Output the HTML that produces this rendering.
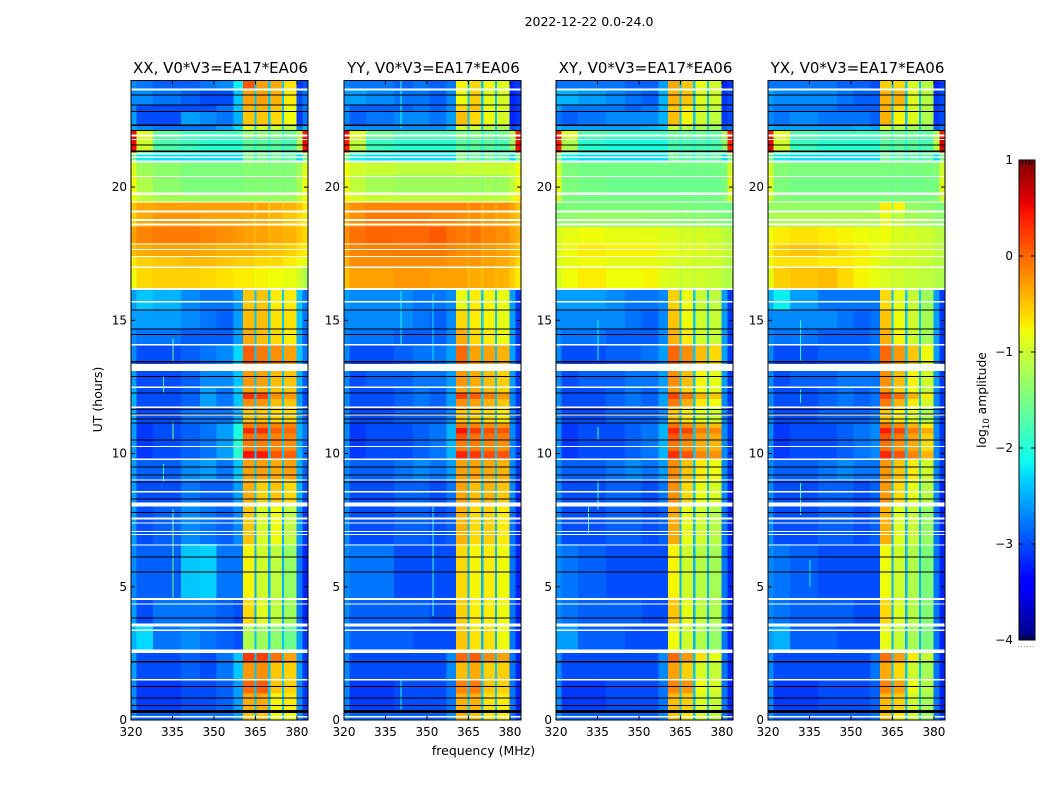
<!DOCTYPE html>
<html>
<head>
<meta charset="utf-8">
<title>2022-12-22 0.0-24.0</title>
<style>
html,body{margin:0;padding:0;background:#fff;}
svg{display:block;font-family:"DejaVu Sans","Liberation Sans",sans-serif;fill:#000;}
</style>
</head>
<body>
<svg id="figure" width="1050" height="800" viewBox="0 0 1050 800" xmlns="http://www.w3.org/2000/svg">
<defs>
<linearGradient id="jet" x1="0" y1="1" x2="0" y2="0">
<stop offset="0" stop-color="#000080"/><stop offset="0.11" stop-color="#0000ff"/><stop offset="0.125" stop-color="#0000ff"/>
<stop offset="0.34" stop-color="#00d8ff"/><stop offset="0.375" stop-color="#0fffee"/><stop offset="0.64" stop-color="#eeff0f"/>
<stop offset="0.66" stop-color="#ffea00"/><stop offset="0.89" stop-color="#ff1300"/><stop offset="0.91" stop-color="#e80000"/><stop offset="1" stop-color="#800000"/>
</linearGradient>
</defs>
<text x="589" y="26" font-size="12.5" text-anchor="middle">2022-12-22 0.0-24.0</text>
<text x="483.5" y="755" font-size="12.5" text-anchor="middle">frequency (MHz)</text>
<text transform="translate(102,399.5) rotate(-90)" font-size="12.5" text-anchor="middle">UT (hours)</text>
<text transform="translate(986,400) rotate(-90)" font-size="12.3" text-anchor="middle">log<tspan font-size="8.5" dy="3">10</tspan><tspan dy="-3"> amplitude</tspan></text>
<g id="panels"></g>
<g id="colorbar"></g>
</svg>
<script>
const panelNames = ["XX", "YY", "XY", "YX"];
const freqTicks = [320, 335, 350, 365, 380];
const hourTicks = [0, 5, 10, 15, 20];
const colorbarTicks = [1, 0, -1, -2, -3, -4];
const freqEdges = [320,322,328,338,345,351,357,360.5,364.6,365.4,369.6,370.4,374.6,375.4,379.8,382,384];
const segmentColumn = [0,1,2,3,4,5,6,7,8,9,8,10,8,11,12,13];
const rowEdges = [24,23.7,23.1,22.85,22.3,22.1,21.85,21.3,21,20.45,19.8,19.45,19.1,18.5,17.9,17.4,17,16.2,15.4,14.7,14.1,13.1,12.5,12.28,12.05,11.75,11.15,10.95,10.75,10.5,10.1,9.8,9,8.1,6.6,4.55,3.55,2.55,2.2,1.5,1,0.4,0];
const whiteFlags = [[23.7,23.63],[21.97,21.9],[21.8,21.77],[21.28,21.23],[21.15,21.1],[21,20.92],[20.42,20.38],[19.8,19.7],[19.45,19.42],[19.12,19.05],[18.8,18.73],[18.63,18.55],[17.88,17.84],[17.68,17.63],[17.41,17.37],[17.02,16.97],[16.22,16.14],[15.72,15.67],[14.12,14.05],[13.36,13.09],[12.51,12.46],[11.76,11.71],[11.47,11.42],[10.29,10.24],[9.81,9.76],[9.03,8.98],[8.59,8.54],[8.17,8.01],[7.6,7.53],[7.41,7.37],[7.1,7.06],[6.98,6.94],[6.59,6.54],[4.57,4.5],[4.37,4.33],[3.63,3.51],[3.4,3.34],[2.64,2.52],[1.53,1.49],[0.15,0.1]];
const blackFlags = [[23.47,23.43],[23.1,23.06],[22.86,22.83],[22.34,22.3],[22.14,22.1],[21.6,21.56],[21.38,21.31],[15.41,15.37],[14.69,14.65],[14.49,14.45],[13.47,13.42],[12.91,12.87],[12.3,12.26],[11.68,11.64],[11.51,11.47],[11.32,11.28],[11.17,11.13],[10.53,10.49],[9.51,9.47],[9.21,9.17],[8.96,8.92],[8.32,8.28],[7.8,7.76],[6.14,6.1],[5.58,5.54],[3.85,3.81],[2.21,2.16],[1.27,1.23],[0.85,0.81],[0.56,0.52],[0.37,0.26]];
const xxSpikes = [[335,7.9,4.6,-1.5],[335,14.3,13.45,-1.6],[335,11.2,10.5,-1.5],[331.5,12.9,12.3,-1.9],[331.5,9.6,8.95,-1.9]];
const yySpikes = [[340.5,16.1,14.1,-2.1],[340.5,24,22.2,-2],[352,8,3.9,-1.9],[352,16,13.5,-2.2],[340.5,1.5,0.4,-2.1]];
const xySpikes = [[331.5,8,7,-1.9],[335,11,10.5,-2],[335,9,7.9,-1.8],[335,15,13.5,-2.1]];
const yxSpikes = [[331.5,8.9,7.7,-1.9],[331.5,12.4,11.9,-2],[331.5,15,13.5,-2.1],[335,6,5,-2.2]];

const xxValues = [
[-2.7,-2.8,-2.9,-2.9,-2.8,-2.7,-2.2,0.1,-2.4,-0.3,-0.35,-0.65,-3.1,-3],
[-2.7,-2.7,-2.8,-2.9,-3,-3,-2.4,-0.3,-2.4,-0.3,-0.4,-0.7,-3,-2.8],
[-2.7,-3,-3,-3,-3,-2.8,-2.4,-0.4,-2.4,-0.4,-0.5,-0.8,-3,-2.8],
[-2.6,-3,-3,-2.6,-2.7,-2.8,-2.5,-0.5,-2.4,-0.5,-0.6,-0.8,-3.1,-2.8],
[-2.6,-2.7,-2.8,-2.8,-2.8,-2.6,-2.3,-0.9,-2.4,-0.9,-1,-1.1,-2.8,-2.5],
[0.5,-0.9,-1.7,-1.9,-1.9,-1.9,-1.9,-1.4,-1.9,-1.4,-1.5,-1.6,-1.2,0.4],
[0.5,-1,-1.8,-1.9,-2,-2,-2,-1.7,-2,-1.7,-1.7,-1.8,-1.2,0.5],
[-1.5,-2.2,-2.3,-2.3,-2.3,-2.3,-2.3,-1.5,-2.1,-1.6,-1.6,-1.7,-2.3,-1.5],
[-0.9,-1.3,-1.4,-1.5,-1.5,-1.5,-1.5,-1.45,-1.5,-1.45,-1.45,-1.45,-1.3,-0.9],
[-0.8,-1.2,-1.4,-1.5,-1.5,-1.5,-1.5,-1.45,-1.5,-1.45,-1.45,-1.45,-1.25,-0.8],
[-0.8,-1.1,-1.25,-1.3,-1.35,-1.35,-1.35,-1.3,-1.4,-1.3,-1.3,-1.3,-1.1,-0.8],
[-0.5,-0.35,-0.3,-0.3,-0.3,-0.3,-0.3,-0.3,-0.5,-0.3,-0.35,-0.4,-0.5,-0.7],
[-0.55,-0.35,-0.25,-0.25,-0.3,-0.3,-0.3,-0.35,-0.5,-0.35,-0.4,-0.5,-0.6,-0.7],
[-0.3,-0.15,-0.1,-0.1,-0.15,-0.2,-0.25,-0.3,-0.4,-0.3,-0.35,-0.4,-0.5,-0.6],
[-0.45,-0.35,-0.3,-0.3,-0.35,-0.4,-0.4,-0.4,-0.5,-0.45,-0.5,-0.55,-0.65,-0.7],
[-0.7,-0.55,-0.5,-0.45,-0.45,-0.5,-0.55,-0.55,-0.65,-0.6,-0.6,-0.7,-0.8,-0.9],
[-0.8,-0.6,-0.55,-0.55,-0.6,-0.65,-0.7,-0.7,-0.8,-0.75,-0.8,-0.85,-1,-1.2],
[-2.6,-2.4,-2.5,-2.7,-2.8,-2.8,-2.6,-0.5,-2.4,-0.5,-0.7,-0.7,-2.4,-2.8],
[-2.6,-2.6,-2.6,-2.7,-2.8,-2.9,-2.6,-0.45,-2.4,-0.45,-0.65,-0.65,-2.4,-2.8],
[-2.7,-2.8,-2.8,-2.9,-2.9,-2.9,-2.6,-0.35,-2.4,-0.45,-0.6,-0.7,-2.5,-2.9],
[-2.7,-3,-3,-2.9,-2.8,-2.7,-2.3,0.05,-2.4,-0.1,-0.2,-0.3,-2.4,-2.8],
[-2.6,-3,-3,-2.9,-2.7,-2.7,-2.4,-0.25,-2.4,-0.3,-0.45,-0.5,-2.5,-2.9],
[-2.5,-3,-3,-2.9,-2.6,-2.8,-2.4,-0.3,-2.4,-0.35,-0.5,-0.5,-2.6,-3],
[-2.5,-3,-3,-2.9,-2.6,-2.8,-2.4,0.3,-2.4,0.2,-0.2,-0.25,-2.6,-3],
[-2.5,-3,-3,-2.9,-2.6,-2.8,-2.4,-0.2,-2.4,-0.25,-0.45,-0.5,-2.6,-3],
[-2.5,-3,-3,-2.8,-2.8,-2.8,-2.5,-0.5,-2.4,-0.5,-0.6,-0.6,-2.5,-2.9],
[-2.6,-3.1,-3,-2.9,-2.8,-2.6,-2.1,-0.1,-2.4,-0.1,-0.15,-0.15,-2.5,-2.8],
[-2.6,-3.1,-3,-2.9,-2.8,-2.6,-2.1,0.35,-2.4,0.3,0.05,0,-2.5,-2.8],
[-2.6,-3.1,-3,-2.9,-2.8,-2.6,-2.1,-0.05,-2.4,-0.05,-0.15,-0.15,-2.5,-2.8],
[-2.6,-3.1,-3,-2.9,-2.8,-2.6,-2,-0.1,-2.4,-0.1,-0.15,-0.2,-2.5,-2.9],
[-2.6,-3.1,-3,-2.9,-2.8,-2.6,-2,0.45,-2.4,0.4,0.1,0.05,-2.5,-2.9],
[-2.6,-2.9,-2.9,-2.7,-2.6,-2.8,-2.4,-0.3,-2.4,-0.3,-0.35,-0.3,-2.5,-2.9],
[-2.6,-3,-3,-2.8,-2.9,-2.9,-2.6,-0.35,-2.4,-0.55,-0.5,-0.6,-2.5,-3],
[-2.6,-3,-2.9,-2.7,-2.8,-2.9,-2.7,-0.5,-2.5,-0.95,-0.8,-1.1,-2.6,-3.1],
[-2.7,-2.9,-2.9,-2.4,-2.35,-2.8,-2.8,-0.75,-2.5,-1,-1.1,-1.35,-2.8,-3.2],
[-2.6,-3,-2.8,-2.8,-2.8,-2.9,-3,-0.6,-2.5,-0.9,-1.1,-1.3,-2.8,-3.2],
[-2.5,-2.3,-2.8,-2.7,-2.8,-2.9,-3,-1.2,-2.4,-1.3,-1.4,-1.6,-2.6,-3.1],
[-2.6,-3,-3,-2.9,-3,-2.8,-2.4,0.25,-2.4,0.2,-0.05,-0.3,-2.6,-3.1],
[-2.6,-3,-3,-2.9,-3,-2.8,-2.4,-0.25,-2.4,-0.2,-0.5,-0.55,-2.6,-3.1],
[-2.7,-3.1,-3.1,-3,-3,-2.9,-2.6,0,-2.4,0.05,-0.5,-0.55,-2.7,-3.1],
[-2.7,-3.1,-3.1,-3,-3,-2.9,-2.6,-0.35,-2.4,-0.35,-0.75,-0.7,-2.7,-3.1],
[-2.7,-2.9,-2.9,-2.8,-2.8,-2.8,-2.6,-0.5,-2.4,-0.5,-0.8,-0.8,-2.7,-3]
];
const yyValues = [
[-2.7,-2.8,-2.8,-2.9,-2.8,-2.9,-2.8,-0.75,-2.4,-0.6,-0.8,-0.9,-3.2,-3.1],
[-2.6,-2.6,-2.7,-2.8,-2.8,-2.9,-2.7,-0.8,-2.4,-0.55,-0.9,-0.95,-3.2,-3.1],
[-2.7,-2.9,-2.9,-2.9,-2.8,-2.9,-2.7,-0.6,-2.4,-0.5,-0.85,-0.95,-3.2,-3.1],
[-2.7,-2.9,-2.8,-2.7,-2.7,-2.8,-2.6,-0.45,-2.4,-0.6,-0.8,-0.95,-3.2,-3.1],
[-2.6,-2.7,-2.7,-2.7,-2.7,-2.7,-2.5,-1,-2.4,-1,-1.1,-1.2,-3,-2.9],
[0.5,-0.9,-1.6,-1.8,-1.8,-1.8,-1.8,-1.5,-1.9,-1.5,-1.6,-1.6,-1.2,0.4],
[0.4,-1.1,-1.9,-2,-2,-2,-2,-1.7,-2,-1.7,-1.7,-1.8,-1.3,0.5],
[-1.5,-2.2,-2.3,-2.3,-2.3,-2.3,-2.3,-1.5,-2.1,-1.6,-1.6,-1.7,-2.3,-1.5],
[-0.8,-1,-1.05,-1.1,-1.1,-1.1,-1.1,-1.05,-1.1,-1.05,-1.05,-1.05,-1,-0.8],
[-0.8,-1.1,-1.25,-1.3,-1.3,-1.3,-1.3,-1.3,-1.4,-1.3,-1.3,-1.3,-1.1,-0.8],
[-0.7,-0.95,-1.05,-1.1,-1.1,-1.1,-1.1,-1.1,-1.2,-1.1,-1.1,-1.1,-0.9,-0.7],
[-0.35,-0.2,-0.15,-0.15,-0.15,-0.15,-0.15,-0.15,-0.3,-0.15,-0.2,-0.2,-0.3,-0.5],
[-0.4,-0.2,-0.1,-0.1,-0.1,-0.15,-0.15,-0.2,-0.4,-0.2,-0.25,-0.3,-0.4,-0.5],
[-0.2,-0.05,0.02,0,0,0.08,-0.05,-0.1,-0.2,-0.05,-0.15,-0.2,-0.3,-0.4],
[-0.3,-0.15,-0.12,-0.1,-0.1,-0.1,-0.15,-0.2,-0.3,-0.2,-0.25,-0.3,-0.4,-0.5],
[-0.4,-0.2,-0.2,-0.2,-0.2,-0.2,-0.25,-0.25,-0.35,-0.25,-0.3,-0.35,-0.45,-0.6],
[-0.45,-0.3,-0.3,-0.25,-0.25,-0.3,-0.3,-0.3,-0.45,-0.35,-0.35,-0.4,-0.55,-0.7],
[-2.6,-2.7,-2.7,-2.7,-2.8,-2.8,-2.7,-0.85,-2.4,-0.7,-0.75,-0.85,-2.6,-3.1],
[-2.7,-2.7,-2.7,-2.7,-2.8,-2.9,-2.7,-0.6,-2.4,-0.7,-0.75,-0.85,-2.6,-3.1],
[-2.7,-2.8,-2.8,-2.9,-2.9,-2.9,-2.7,-0.35,-2.4,-0.6,-0.7,-0.8,-2.6,-3.1],
[-2.7,-3,-3,-2.9,-2.8,-2.8,-2.6,0,-2.4,-0.3,-0.3,-0.4,-2.6,-3.1],
[-2.7,-3,-2.9,-2.9,-2.8,-2.8,-2.6,-0.25,-2.4,-0.35,-0.45,-0.55,-2.6,-3.1],
[-2.7,-3,-3,-2.9,-2.8,-2.9,-2.6,-0.3,-2.4,-0.35,-0.45,-0.55,-2.7,-3.1],
[-2.7,-3,-3,-2.9,-2.8,-2.9,-2.6,0.2,-2.4,0.05,-0.1,-0.25,-2.7,-3.1],
[-2.7,-3,-3,-2.9,-2.8,-2.9,-2.6,-0.2,-2.4,-0.3,-0.4,-0.5,-2.7,-3.1],
[-2.7,-3,-3,-2.9,-2.9,-2.9,-2.7,-0.5,-2.4,-0.55,-0.6,-0.7,-2.7,-3.1],
[-2.7,-3.1,-3,-3,-2.9,-2.8,-2.5,-0.1,-2.4,-0.15,-0.2,-0.25,-2.7,-3.1],
[-2.7,-3.1,-3,-3,-2.9,-2.8,-2.5,0.45,-2.4,0.25,0.15,0.1,-2.7,-3.1],
[-2.7,-3.1,-3,-3,-2.9,-2.8,-2.5,0.1,-2.4,-0.05,-0.05,-0.1,-2.7,-3.1],
[-2.7,-3.1,-3,-3,-2.9,-2.8,-2.5,-0.1,-2.4,-0.1,-0.15,-0.2,-2.7,-3.1],
[-2.7,-3.1,-3,-3,-2.9,-2.8,-2.5,0.35,-2.4,0.25,0.15,0.1,-2.7,-3.1],
[-2.7,-2.9,-2.9,-2.8,-2.7,-2.8,-2.6,-0.3,-2.4,-0.3,-0.35,-0.4,-2.7,-3.1],
[-2.7,-3,-3,-2.9,-2.9,-3,-2.8,-0.3,-2.4,-0.45,-0.4,-0.5,-2.7,-3.2],
[-2.7,-3,-3,-2.9,-2.9,-3,-2.9,-0.4,-2.5,-0.6,-0.55,-0.7,-2.8,-3.2],
[-2.7,-2.8,-2.8,-3,-3,-3,-3,-0.6,-2.5,-0.75,-0.7,-0.8,-2.8,-3.2],
[-2.7,-2.9,-2.9,-2.9,-2.9,-3,-3,-0.55,-2.5,-0.7,-0.7,-0.8,-2.8,-3.2],
[-2.7,-2.9,-2.9,-2.9,-3,-3,-3,-0.5,-2.5,-0.65,-0.65,-0.8,-2.8,-3.2],
[-2.7,-3,-3,-3,-3,-3,-2.7,0,-2.4,0.05,-0.2,-0.3,-2.8,-3.2],
[-2.7,-3,-3,-3,-3,-3,-2.7,-0.45,-2.4,-0.35,-0.55,-0.55,-2.8,-3.2],
[-2.7,-3.1,-3.1,-3,-3,-3,-2.8,-0.15,-2.4,-0.1,-0.5,-0.55,-2.8,-3.2],
[-2.7,-3.1,-3.1,-3,-3,-3,-2.8,-0.4,-2.4,-0.4,-0.65,-0.7,-2.8,-3.2],
[-2.7,-2.9,-2.9,-2.9,-2.9,-2.9,-2.7,-0.4,-2.4,-0.5,-0.7,-0.7,-2.8,-3.1]
];
const xyValues = [
[-2.8,-2.8,-2.8,-2.8,-2.9,-2.9,-2.6,-0.35,-2.4,-0.5,-0.85,-1,-3.2,-3.1],
[-2.5,-2.5,-2.6,-2.7,-2.8,-2.9,-2.5,-0.4,-2.4,-0.5,-0.9,-1,-3.1,-3],
[-2.6,-2.8,-2.8,-2.8,-2.9,-2.8,-2.5,-0.5,-2.4,-0.7,-1,-1.1,-3.1,-3],
[-2.8,-2.9,-2.8,-2.7,-2.7,-2.7,-2.5,-0.45,-2.4,-0.75,-1,-1.1,-3.1,-3],
[-2.5,-2.6,-2.6,-2.6,-2.6,-2.5,-2.4,-1,-2.4,-1.1,-1.2,-1.3,-2.9,-2.8],
[0.4,-0.9,-1.8,-1.9,-1.9,-1.9,-1.9,-1.6,-1.9,-1.6,-1.6,-1.7,-1.2,0.4],
[0.4,-1.2,-2,-2.1,-2.1,-2.1,-2.1,-1.8,-2,-1.8,-1.8,-1.8,-1.4,0.4],
[-1.5,-2.2,-2.3,-2.3,-2.3,-2.3,-2.3,-1.6,-2.1,-1.7,-1.7,-1.7,-2.3,-1.5],
[-1,-1.5,-1.55,-1.55,-1.55,-1.55,-1.55,-1.55,-1.6,-1.55,-1.55,-1.55,-1.5,-1],
[-0.9,-1.5,-1.55,-1.6,-1.6,-1.6,-1.6,-1.6,-1.6,-1.6,-1.6,-1.6,-1.5,-0.9],
[-1,-1.5,-1.55,-1.55,-1.55,-1.55,-1.55,-1.55,-1.6,-1.55,-1.55,-1.55,-1.45,-1],
[-1.5,-1.5,-1.5,-1.5,-1.5,-1.5,-1.5,-1.5,-1.6,-1.5,-1.5,-1.55,-1.55,-1.6],
[-1.4,-1.4,-1.35,-1.35,-1.35,-1.4,-1.4,-1.4,-1.5,-1.4,-1.4,-1.45,-1.5,-1.5],
[-0.95,-0.85,-0.8,-0.85,-0.85,-0.85,-0.9,-0.9,-1.05,-0.95,-0.95,-1,-1.1,-1.15],
[-0.95,-0.8,-0.7,-0.75,-0.75,-0.75,-0.85,-0.85,-1,-0.9,-0.9,-1,-1.05,-1.1],
[-0.95,-0.85,-0.8,-0.85,-0.85,-0.85,-0.9,-0.95,-1.05,-0.95,-1,-1,-1.1,-1.15],
[-1,-0.8,-0.7,-0.8,-0.8,-0.75,-0.9,-0.95,-1.1,-1,-1,-1.05,-1.15,-1.2],
[-2.6,-2.6,-2.6,-2.7,-2.8,-2.8,-2.7,-0.55,-2.4,-0.8,-1.05,-1.1,-2.6,-3.1],
[-2.7,-2.7,-2.7,-2.7,-2.8,-2.9,-2.7,-0.5,-2.4,-0.8,-1,-1.05,-2.6,-3.1],
[-2.7,-2.8,-2.8,-2.9,-2.9,-2.9,-2.7,-0.4,-2.4,-0.7,-1,-1.05,-2.6,-3.1],
[-2.7,-3,-3,-2.9,-2.9,-2.8,-2.6,0,-2.4,-0.2,-0.45,-0.6,-2.6,-3.1],
[-2.7,-3,-2.9,-2.9,-2.8,-2.8,-2.6,-0.2,-2.4,-0.45,-0.75,-0.85,-2.6,-3.1],
[-2.7,-3,-3,-2.9,-2.8,-2.9,-2.6,-0.25,-2.4,-0.55,-0.8,-0.9,-2.7,-3.1],
[-2.7,-3,-3,-2.9,-2.8,-2.9,-2.6,0.2,-2.4,-0.05,-0.4,-0.5,-2.7,-3.1],
[-2.7,-3,-3,-2.9,-2.8,-2.9,-2.6,-0.1,-2.4,-0.4,-0.7,-0.8,-2.7,-3.1],
[-2.7,-3,-3,-2.9,-2.9,-2.9,-2.7,-0.5,-2.4,-0.7,-0.9,-1,-2.7,-3.1],
[-2.7,-3.1,-3,-3,-2.9,-2.8,-2.5,-0.05,-2.4,-0.2,-0.4,-0.45,-2.7,-3.1],
[-2.7,-3.1,-3,-3,-2.9,-2.8,-2.5,0.35,-2.4,0.2,-0.1,-0.15,-2.7,-3.1],
[-2.7,-3.1,-3,-3,-2.9,-2.8,-2.5,0.1,-2.4,-0.1,-0.3,-0.35,-2.7,-3.1],
[-2.7,-3.1,-3,-3,-2.9,-2.8,-2.5,-0.05,-2.4,-0.2,-0.35,-0.4,-2.7,-3.1],
[-2.7,-3.1,-3,-3,-2.9,-2.8,-2.5,0.3,-2.4,0.1,-0.15,-0.2,-2.7,-3.1],
[-2.7,-2.9,-2.9,-2.8,-2.7,-2.8,-2.6,-0.2,-2.4,-0.5,-0.7,-0.8,-2.7,-3.1],
[-2.7,-3,-3,-2.9,-2.9,-3,-2.8,-0.2,-2.4,-0.6,-0.85,-0.95,-2.7,-3.2],
[-2.7,-3,-3,-2.9,-2.9,-3,-2.9,-0.35,-2.5,-0.85,-1,-1.15,-2.8,-3.2],
[-2.7,-2.8,-2.9,-3,-3,-3,-3,-0.75,-2.5,-1,-1.15,-1.25,-2.8,-3.2],
[-2.7,-2.8,-2.9,-2.9,-2.9,-3,-3,-0.5,-2.5,-0.85,-1.1,-1.2,-2.8,-3.2],
[-2.6,-2.6,-2.9,-2.9,-3,-3,-3,-0.8,-2.5,-1,-1.2,-1.35,-2.8,-3.2],
[-2.7,-3,-3,-3,-3,-3,-2.7,0,-2.4,-0.25,-0.65,-0.85,-2.8,-3.2],
[-2.7,-3,-3,-3,-3,-3,-2.7,-0.3,-2.4,-0.55,-0.95,-1.05,-2.8,-3.2],
[-2.7,-3.1,-3.1,-3,-3,-3,-2.8,-0.15,-2.4,-0.25,-0.8,-0.95,-2.8,-3.2],
[-2.7,-3.1,-3.1,-3,-3,-3,-2.8,-0.45,-2.4,-0.55,-0.95,-1.05,-2.8,-3.2],
[-2.7,-2.9,-2.9,-2.9,-2.9,-2.9,-2.7,-0.5,-2.4,-0.7,-1,-1.1,-2.8,-3.1]
];
const yxValues = [
[-2.8,-2.8,-2.8,-2.8,-2.9,-2.9,-3,-0.55,-2.4,-0.6,-0.95,-1.15,-3.2,-3.1],
[-2.6,-2.7,-2.7,-2.7,-2.8,-2.9,-2.9,-0.4,-2.4,-0.4,-0.9,-1.15,-3.1,-3],
[-2.7,-2.8,-2.8,-2.8,-2.9,-2.9,-2.9,-0.4,-2.4,-0.6,-0.95,-1.2,-3.1,-3],
[-2.7,-2.8,-2.7,-2.8,-2.8,-2.8,-2.9,-0.4,-2.4,-0.75,-0.9,-1.2,-3.1,-3],
[-2.5,-2.6,-2.6,-2.6,-2.6,-2.5,-2.6,-1,-2.4,-1.1,-1.2,-1.4,-2.9,-2.8],
[0.4,-0.9,-1.8,-1.9,-1.9,-1.9,-1.9,-1.6,-1.9,-1.6,-1.6,-1.7,-1.2,0.4],
[0.6,-1,-1.9,-2,-2,-2,-2,-1.7,-2,-1.7,-1.7,-1.8,-1.1,0.6],
[-1.5,-2.2,-2.3,-2.3,-2.3,-2.3,-2.3,-1.6,-2.1,-1.7,-1.7,-1.7,-2.3,-1.5],
[-1,-1.45,-1.5,-1.5,-1.5,-1.5,-1.5,-1.5,-1.55,-1.5,-1.5,-1.5,-1.45,-1],
[-0.9,-1.5,-1.55,-1.55,-1.55,-1.55,-1.55,-1.55,-1.6,-1.55,-1.55,-1.55,-1.5,-0.9],
[-1,-1.45,-1.5,-1.5,-1.5,-1.5,-1.5,-1.5,-1.55,-1.5,-1.5,-1.5,-1.45,-1],
[-1.35,-1.35,-1.35,-1.35,-1.35,-1.35,-1.35,-0.7,-1.4,-0.75,-1.35,-1.4,-1.45,-1.5],
[-1.25,-1.2,-1.2,-1.2,-1.2,-1.2,-1.25,-0.85,-1.35,-1.1,-1.25,-1.3,-1.4,-1.4],
[-0.8,-0.7,-0.65,-0.7,-0.75,-0.8,-0.85,-0.8,-1.05,-0.9,-0.95,-1,-1.1,-1.15],
[-0.75,-0.55,-0.5,-0.55,-0.65,-0.7,-0.8,-0.85,-1,-0.95,-0.95,-1,-1.1,-1.1],
[-0.8,-0.65,-0.65,-0.7,-0.7,-0.75,-0.85,-0.95,-1.05,-1,-1,-1.05,-1.15,-1.15],
[-0.85,-0.55,-0.5,-0.45,-0.6,-0.75,-0.85,-0.95,-1.1,-1,-1.05,-1.1,-1.15,-1.2],
[-2.5,-2.2,-2.6,-2.8,-2.8,-2.8,-2.8,-0.6,-2.4,-0.85,-1.05,-1.3,-2.6,-3.1],
[-2.7,-2.7,-2.7,-2.7,-2.8,-2.9,-2.8,-0.5,-2.4,-0.8,-1,-1.25,-2.6,-3.1],
[-2.7,-2.8,-2.8,-2.9,-2.9,-2.9,-2.8,-0.4,-2.4,-0.75,-1,-1.25,-2.6,-3.1],
[-2.7,-3,-3,-2.9,-2.9,-2.9,-2.8,0,-2.4,-0.25,-0.5,-0.8,-2.6,-3.1],
[-2.7,-3,-2.9,-2.9,-2.8,-2.8,-2.8,-0.2,-2.4,-0.45,-0.75,-1,-2.6,-3.1],
[-2.7,-3,-3,-2.9,-2.8,-2.9,-2.8,-0.25,-2.4,-0.55,-0.8,-1.1,-2.7,-3.1],
[-2.7,-3,-3,-2.9,-2.8,-2.9,-2.8,0.2,-2.4,-0.05,-0.4,-0.7,-2.7,-3.1],
[-2.7,-3,-3,-2.9,-2.8,-2.9,-2.8,-0.1,-2.4,-0.4,-0.7,-1,-2.7,-3.1],
[-2.7,-3,-3,-2.9,-2.9,-2.9,-2.8,-0.5,-2.4,-0.7,-0.9,-1.2,-2.7,-3.1],
[-2.7,-3.1,-3,-3,-2.9,-2.8,-2.7,-0.05,-2.4,-0.2,-0.4,-0.7,-2.7,-3.1],
[-2.7,-3.1,-3,-3,-2.9,-2.8,-2.7,0.4,-2.4,0.2,-0.1,-0.35,-2.7,-3.1],
[-2.7,-3.1,-3,-3,-2.9,-2.8,-2.7,0.1,-2.4,-0.1,-0.3,-0.55,-2.7,-3.1],
[-2.7,-3.1,-3,-3,-2.9,-2.8,-2.7,-0.05,-2.4,-0.2,-0.35,-0.6,-2.7,-3.1],
[-2.7,-3.1,-3,-3,-2.9,-2.8,-2.7,0.35,-2.4,0.1,-0.15,-0.4,-2.7,-3.1],
[-2.7,-2.9,-2.9,-2.8,-2.7,-2.8,-2.8,-0.25,-2.4,-0.5,-0.7,-1,-2.7,-3.1],
[-2.7,-3,-3,-2.9,-2.9,-3,-2.9,-0.25,-2.4,-0.6,-0.85,-1.15,-2.7,-3.2],
[-2.7,-3,-3,-2.9,-2.9,-3,-2.9,-0.4,-2.5,-0.9,-1.05,-1.35,-2.8,-3.2],
[-2.7,-2.8,-2.9,-3,-3,-3,-3,-0.8,-2.5,-1,-1.2,-1.5,-2.8,-3.2],
[-2.7,-2.8,-2.9,-2.9,-2.9,-3,-3,-0.6,-2.5,-0.9,-1.15,-1.45,-2.8,-3.2],
[-2.6,-2.5,-2.9,-2.9,-3,-3,-3,-0.85,-2.5,-1.05,-1.25,-1.5,-2.8,-3.2],
[-2.7,-3,-3,-3,-3,-3,-2.8,-0.05,-2.4,-0.3,-0.7,-1.05,-2.8,-3.2],
[-2.7,-3,-3,-3,-3,-3,-2.8,-0.35,-2.4,-0.6,-1,-1.25,-2.8,-3.2],
[-2.7,-3.1,-3.1,-3,-3,-3,-2.9,-0.15,-2.4,-0.3,-0.8,-1.15,-2.8,-3.2],
[-2.7,-3.1,-3.1,-3,-3,-3,-2.9,-0.45,-2.4,-0.55,-1,-1.25,-2.8,-3.2],
[-2.7,-2.9,-2.9,-2.9,-2.9,-2.9,-2.8,-0.5,-2.4,-0.7,-1,-1.3,-2.8,-3.1]
];
const panelValues = [xxValues, yyValues, xyValues, yxValues];
const panelSpikes = [xxSpikes, yySpikes, xySpikes, yxSpikes];

const NS = "http://www.w3.org/2000/svg";
const panelLefts = [131, 344, 556, 768];
const plotTop = 80.5, plotBottom = 720, plotWidth = 177;
const freqMin = 320, freqMax = 384, hourMin = 0, hourMax = 24;
const cbarLeft = 1019, cbarWidth = 16, cbarTop = 160, cbarBottom = 640, cbarMin = -4, cbarMax = 1;

function xScale(left, f) { return left + (f - freqMin) / (freqMax - freqMin) * plotWidth; }
function yScale(h) { return plotBottom - (h - hourMin) / (hourMax - hourMin) * (plotBottom - plotTop); }
function cbarScale(v) { return cbarBottom - (v - cbarMin) / (cbarMax - cbarMin) * (cbarBottom - cbarTop); }
function lerp(stops, t) {
  for (let i = 1; i < stops.length; i++) {
    if (t <= stops[i][0]) {
      const k = (t - stops[i-1][0]) / (stops[i][0] - stops[i-1][0]);
      return stops[i-1][1] + k * (stops[i][1] - stops[i-1][1]);
    }
  }
  return stops[stops.length-1][1];
}
const jetR = [[0,0],[0.35,0],[0.66,1],[0.89,1],[1,0.5]];
const jetG = [[0,0],[0.125,0],[0.375,1],[0.64,1],[0.91,0],[1,0]];
const jetB = [[0,0.5],[0.11,1],[0.34,1],[0.65,0],[1,0]];
function jetColor(v) {
  const t = Math.min(1, Math.max(0, (v - cbarMin) / (cbarMax - cbarMin)));
  return "rgb(" + Math.round(255*lerp(jetR,t)) + "," + Math.round(255*lerp(jetG,t)) + "," + Math.round(255*lerp(jetB,t)) + ")";
}
function make(tag, attrs, parent) {
  const node = document.createElementNS(NS, tag);
  for (const key in attrs) node.setAttribute(key, attrs[key]);
  parent.appendChild(node);
  return node;
}

const panelsRoot = document.getElementById("panels");
panelNames.forEach(function (name, p) {
  const left = panelLefts[p];
  const values = panelValues[p];
  const panel = make("g", {}, panelsRoot);
  
  

  const title = make("text", {x: left + plotWidth / 2 + 1, y: 73, "font-size": 15, "text-anchor": "middle"}, panel);
  title.textContent = name + ", V0*V3=EA17*EA06";
  
  

  const heat = make("g", {"shape-rendering": "crispEdges"}, panel);
  
  
  values.forEach(function (row, r) {
    const y0 = yScale(rowEdges[r]), y1 = yScale(rowEdges[r + 1]);
    segmentColumn.forEach(function (col, s) {
      const x0 = xScale(left, freqEdges[s]), x1 = xScale(left, freqEdges[s + 1]);
      const cell = make("rect", {x: x0, y: y0, width: x1 - x0, height: y1 - y0, fill: jetColor(row[col])}, heat);
      
      
    });
  });

  panelSpikes[p].forEach(function (spike) {
    const line = make("rect", {x: xScale(left, spike[0]), y: yScale(spike[1]), width: 1, height: yScale(spike[2]) - yScale(spike[1]), fill: jetColor(spike[3]), "shape-rendering": "crispEdges"}, panel);
    
    
  });

  whiteFlags.forEach(function (band) {
    const flag = make("rect", {x: left, y: yScale(band[0]), width: plotWidth, height: Math.max(1, yScale(band[1]) - yScale(band[0])), fill: "#fff", "shape-rendering": "crispEdges"}, panel);
    
    
  });
  blackFlags.forEach(function (band) {
    const flag = make("rect", {x: left, y: yScale(band[0]), width: plotWidth, height: Math.max(1, yScale(band[1]) - yScale(band[0])), fill: "#000", "shape-rendering": "crispEdges"}, panel);
    
    
  });

  freqTicks.forEach(function (f) {
    const x = xScale(left, f);
    const tickB = make("line", {x1: x, x2: x, y1: plotBottom, y2: plotBottom - 4, stroke: "#000", "stroke-width": 1}, panel);
    
    
    const tickT = make("line", {x1: x, x2: x, y1: plotTop, y2: plotTop + 4, stroke: "#000", "stroke-width": 1}, panel);
    
    
    const label = make("text", {x: x, y: 736, "font-size": 12, "text-anchor": "middle"}, panel);
    label.textContent = f;
    
    
  });
  hourTicks.forEach(function (h) {
    const y = yScale(h);
    const tickL = make("line", {x1: left, x2: left + 4, y1: y, y2: y, stroke: "#000", "stroke-width": 1}, panel);
    
    
    const tickR = make("line", {x1: left + plotWidth, x2: left + plotWidth - 4, y1: y, y2: y, stroke: "#000", "stroke-width": 1}, panel);
    
    
    const label = make("text", {x: left - 4, y: y + 4, "font-size": 12, "text-anchor": "end"}, panel);
    label.textContent = h;
    
    
  });

  const frame = make("rect", {x: left, y: plotTop, width: plotWidth, height: plotBottom - plotTop, fill: "none", stroke: "#000", "stroke-width": 1}, panel);
  
  
});

const cbar = document.getElementById("colorbar");
const cbarBody = make("rect", {x: cbarLeft, y: cbarTop, width: cbarWidth, height: cbarBottom - cbarTop, fill: "url(#jet)", stroke: "#000", "stroke-width": 1}, cbar);


colorbarTicks.forEach(function (v) {
  const y = cbarScale(v);
  const tickL = make("line", {x1: cbarLeft, x2: cbarLeft + 4, y1: y, y2: y, stroke: "#000"}, cbar);
  
  
  const tickR = make("line", {x1: cbarLeft + cbarWidth, x2: cbarLeft + cbarWidth - 4, y1: y, y2: y, stroke: "#000"}, cbar);
  
  
  const label = make("text", {x: 1013, y: y + 4, "font-size": 12, "text-anchor": "end"}, cbar);
  label.textContent = v < 0 ? "\u2212" + Math.abs(v) : String(v);
  
  
});
[3.5, 7, 10.5, 13].forEach(function (offset) {
  const minorTop = make("line", {x1: cbarLeft + offset, x2: cbarLeft + offset, y1: cbarTop, y2: cbarTop + 5, stroke: "#000"}, cbar);
  
  
  const minorBottom = make("line", {x1: cbarLeft + offset, x2: cbarLeft + offset, y1: cbarBottom, y2: cbarBottom - 5, stroke: "#000"}, cbar);
  
  
});
[1018, 1021, 1024, 1027, 1030, 1033].forEach(function (x) {
  const dot = make("rect", {x: x, y: 646, width: 1, height: 1, fill: "#999"}, cbar);
  
  
});
</script>
</body>
</html>
